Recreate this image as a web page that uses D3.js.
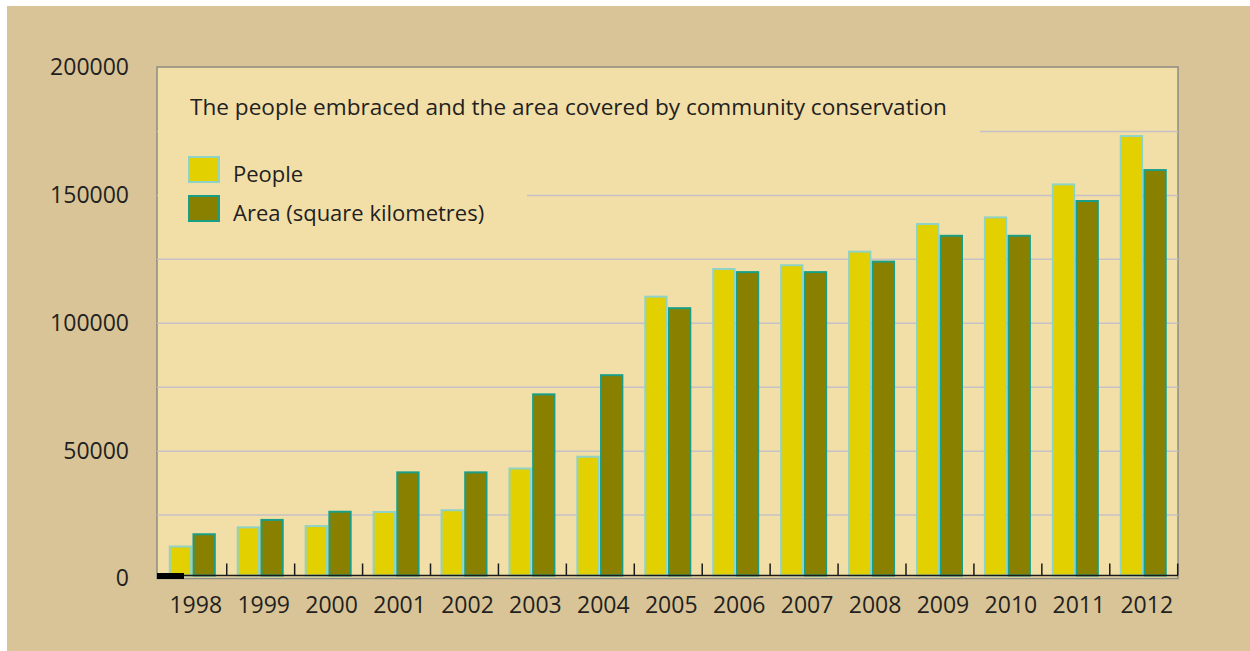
<!DOCTYPE html>
<html>
<head>
    <title>Community conservation</title>
    <script src="https://cdn.jsdelivr.net/npm/d3@7/dist/d3.min.js"></script>
</head>

<style>
    body{
        margin:0;
        background-color: #ffffff;
        font-family: 'Open Sans', sans-serif;
    }
    .lbl { fill: #231f20; }
</style>

<body>
    <div id="chart"></div>
</body>

<script>
    // data
    var years = ["1998","1999","2000","2001","2002","2003","2004","2005","2006","2007","2008","2009","2010","2011","2012"];
    var people = [12500, 20000, 20500, 26000, 26700, 43000, 47600, 110200, 121000, 122500, 127800, 138600, 141200, 154100, 173000];
    var area   = [17300, 22900, 26100, 41500, 41500, 72000, 79500, 105700, 119800, 119800, 123900, 134000, 134000, 147600, 159700];
    var yTicks = [0, 50000, 100000, 150000, 200000];
    var gridLines = [25000, 50000, 75000, 100000, 125000, 150000, 175000];
    var seriesNames = ["People", "Area (square kilometres)"];

    var W = 1250, H = 651;
    var pLeft = 157, pRight = 1178, pTop = 67, pBottom = 578.5;

    var svg = d3.select("#chart").append("svg")
        .attr("width", W)
        .attr("height", H);

    // tan frame + plot panel
    svg.append("rect").attr("x", 7).attr("y", 6).attr("width", W - 7).attr("height", H - 6)
        .attr("fill", "#d9c497");
    svg.append("rect").attr("x", pLeft).attr("y", pTop).attr("width", pRight - pLeft).attr("height", pBottom - pTop)
        .attr("fill", "#f2dea7").attr("stroke", "#8f8b85").attr("stroke-width", 1.5);

    var x = d3.scaleBand().domain(years).range([158.8, 1177.7]);
    var x1 = d3.scaleBand().domain(["people", "area"]).range([11, 56]).paddingInner(0.1);
    var y = d3.scaleLinear().domain([0, 200000]).range([pBottom, pTop]);

    // gridlines
    svg.append("g")
        .attr("transform", "translate(" + pLeft + ",0)")
        .call(d3.axisLeft(y).tickValues(gridLines).tickSize(-(pRight - pLeft)).tickFormat(""))
        .call(function(g) {
            g.select(".domain").remove();
            g.selectAll("line").attr("stroke", "#c6c1c6").attr("stroke-width", 1.5);
        });

    // title and legend sit on patches that hide the gridlines
    svg.append("rect").attr("x", pLeft + 1).attr("y", 124).attr("width", 980 - pLeft - 1).attr("height", 14)
        .attr("fill", "#f2dea7");
    svg.append("rect").attr("x", pLeft + 1).attr("y", 186).attr("width", 527 - pLeft - 1).attr("height", 14)
        .attr("fill", "#f2dea7");

    svg.append("text").attr("class", "lbl")
        .attr("x", 190).attr("y", 115)
        .style("font-size", "22.6px")
        .text("The people embraced and the area covered by community conservation");

    var legendFill = ["#e2d000", "#8a8000"], legendStroke = ["#8fd3c6", "#1a9e86"];
    var legend = svg.selectAll(".legend")
        .data(seriesNames)
        .enter().append("g")
        .attr("class", "legend")
        .attr("transform", function(d, i) { return "translate(189," + (157 + i * 39) + ")"; });
    legend.append("rect")
        .attr("width", 30).attr("height", 25)
        .attr("fill", function(d, i) { return legendFill[i]; })
        .attr("stroke", function(d, i) { return legendStroke[i]; })
        .attr("stroke-width", 2);
    legend.append("text").attr("class", "lbl")
        .attr("x", 44).attr("y", 25)
        .style("font-size", "22px")
        .text(function(d) { return d; });

    // bars
    var groups = svg.selectAll(".year")
        .data(years)
        .enter().append("g")
        .attr("class", "year")
        .attr("transform", function(d) { return "translate(" + x(d) + ",0)"; });

    groups.append("rect")
        .attr("x", x1("people"))
        .attr("y", function(d, i) { return y(people[i]); })
        .attr("width", x1.bandwidth())
        .attr("height", function(d, i) { return y(0) - y(people[i]) - 3; })
        .attr("fill", legendFill[0]).attr("stroke", legendStroke[0]).attr("stroke-width", 2);

    groups.append("rect")
        .attr("x", x1("area"))
        .attr("y", function(d, i) { return y(area[i]); })
        .attr("width", x1.bandwidth())
        .attr("height", function(d, i) { return y(0) - y(area[i]) - 3; })
        .attr("fill", legendFill[1]).attr("stroke", legendStroke[1]).attr("stroke-width", 2);

    // base line, separators and the black stub
    var base = pBottom - 3;
    svg.append("line").attr("x1", pLeft).attr("x2", pRight).attr("y1", base).attr("y2", base)
        .attr("stroke", "#1a1a1a").attr("stroke-width", 1.5);
    groups.append("line")
        .attr("x1", x.bandwidth()).attr("x2", x.bandwidth())
        .attr("y1", base - 12).attr("y2", base)
        .attr("stroke", "#1a1a1a").attr("stroke-width", 1.5);
    svg.append("rect").attr("x", pLeft).attr("y", base - 2.5).attr("width", 27).attr("height", 6)
        .attr("fill", "#000");

    // y axis labels
    svg.append("g")
        .attr("transform", "translate(" + pLeft + ",0)")
        .call(d3.axisLeft(y).tickValues(yTicks).tickSize(0).tickPadding(28).tickFormat(d3.format("d")))
        .call(function(g) {
            g.select(".domain").remove();
            g.selectAll("text").attr("class", "lbl").attr("fill", null)
                .style("font-size", "23px").style("font-family", "'Open Sans', sans-serif");
        });

    // x axis labels
    svg.append("g")
        .attr("transform", "translate(3," + pBottom + ")")
        .call(d3.axisBottom(x).tickSize(0).tickPadding(18))
        .call(function(g) {
            g.select(".domain").remove();
            g.selectAll("text").attr("class", "lbl").attr("fill", null)
                .style("font-size", "23px").style("font-family", "'Open Sans', sans-serif");
        });
</script>

</html>
